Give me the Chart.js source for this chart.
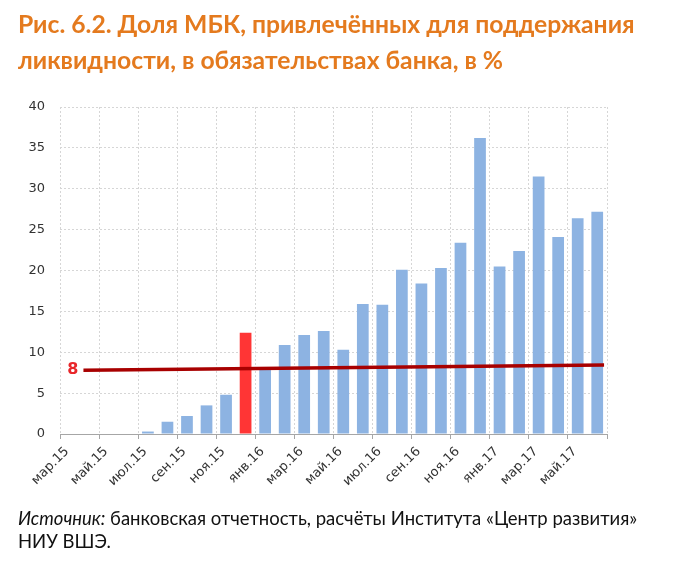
<!DOCTYPE html>
<html>
<head>
<meta charset="utf-8">
<script src="https://cdn.jsdelivr.net/npm/chart.js@4"></script>
<style>
  body { margin: 0; background: #fff; }
  #wrap { position: relative; width: 679px; height: 570px; }
  #grafico { position: absolute; left: 0; top: 0; }
  #titulo {
    position: absolute; left: 18px; top: 6px;
    font: bold 24.7px Lato, "Noto Sans", sans-serif; line-height: 36px;
    color: #E47A1E; white-space: nowrap;
  }
  #fuente {
    position: absolute; left: 18px; top: 507px;
    font: 18.5px Lato, "Noto Sans", sans-serif; line-height: 23px;
    color: #111; white-space: nowrap;
  }
</style>
</head>
<body>
<div id="wrap">
  <canvas id="grafico" width="679" height="570"></canvas>
  <div id="titulo">Рис. 6.2. Доля МБК, привлечённых для поддержания<br>ликвидности, в обязательствах банка, в %</div>
  <div id="fuente"><i>Источник:</i> банковская отчетность, расчёты Института «Центр развития»<br>НИУ ВШЭ.</div>
</div>
<script>
  // месяцы, март 2015 - июнь 2017
  const meses = [
    'мар.15', 'апр.15', 'май.15', 'июн.15', 'июл.15', 'авг.15', 'сен.15', 'окт.15', 'ноя.15', 'дек.15',
    'янв.16', 'фев.16', 'мар.16', 'апр.16', 'май.16', 'июн.16', 'июл.16', 'авг.16', 'сен.16', 'окт.16', 'ноя.16', 'дек.16',
    'янв.17', 'фев.17', 'мар.17', 'апр.17', 'май.17', 'июн.17'
  ];
  // доля МБК в обязательствах, %
  const doliaMBK = [
    null, null, null, null, 0.3, 1.5, 2.2, 3.5, 4.8, 12.4,
    7.9, 10.9, 12.1, 12.6, 10.3, 15.9, 15.8, 20.1, 18.4, 20.3, 23.4, 36.2,
    20.5, 22.4, 31.5, 24.1, 26.4, 27.2
  ];
  const mesDestacado = 'дек.15';
  // линия порога (начало и конец, в месяцах от мар.15)
  const umbralMeses = [1.2, 27.85];
  const umbralValores = [7.8, 8.45];
  const umbralEtiqueta = '8';
  const ticksY = [0, 5, 10, 15, 20, 25, 30, 35, 40];

  const azul = '#8DB3E2';
  const rojo = '#FF3535';

  const etiquetaUmbral = {
    id: 'etiquetaUmbral',
    afterDatasetsDraw(chart) {
      const p = chart.getDatasetMeta(1).data[0];
      const ctx = chart.ctx;
      ctx.save();
      ctx.font = 'bold 16px "DejaVu Sans", sans-serif';
      ctx.fillStyle = '#E8262A';
      ctx.textAlign = 'right';
      ctx.textBaseline = 'middle';
      ctx.fillText(umbralEtiqueta, p.x - 5, p.y);
      ctx.restore();
    }
  };

  const ctx = document.getElementById('grafico').getContext('2d');
  new Chart(ctx, {
    data: {
      datasets: [
        {
          type: 'bar',
          order: 1,
          data: meses.map((m, i) => ({ x: i + 0.5, y: doliaMBK[i] })),
          backgroundColor: meses.map(m => m === mesDestacado ? rojo : azul),
          categoryPercentage: 1,
          barPercentage: 0.6
        },
        {
          type: 'line',
          order: 0,
          data: umbralMeses.map((x, i) => ({ x, y: umbralValores[i] })),
          borderColor: '#A80000',
          borderWidth: 3.5,
          pointRadius: 0
        }
      ]
    },
    options: {
      responsive: false,
      animation: false,
      layout: { padding: { top: 107, right: 72, bottom: 66, left: 0 } },
      plugins: { legend: { display: false }, tooltip: { enabled: false } },
      scales: {
        x: {
          type: 'linear',
          min: 0,
          max: meses.length,
          offset: false,
          afterFit: (s) => { s.height = 70; },
          afterBuildTicks: (s) => {
            s.ticks = meses.map((m, i) => ({ value: i })).filter(t => t.value % 2 === 0);
            s.ticks.push({ value: meses.length });
          },
          ticks: {
            autoSkip: false,
            maxRotation: 45,
            minRotation: 45,
            padding: 5,
            labelOffset: 7,
            color: '#333',
            font: { family: 'DejaVu Sans', size: 13 },
            callback: (v) => meses[v] || ''
          },
          grid: {
            offset: false,
            color: '#D6D6D6',
            tickColor: '#A6A6A6',
            tickLength: 5,
            tickBorderDash: []
          },
          border: { display: true, color: '#A6A6A6', dash: [2, 2] }
        },
        y: {
          min: 0,
          max: 40,
          afterFit: (s) => { s.width = 60; },
          afterBuildTicks: (s) => { s.ticks = ticksY.map(v => ({ value: v })); },
          ticks: {
            padding: 15,
            color: '#333',
            font: { family: 'DejaVu Sans', size: 13 }
          },
          grid: { color: '#D6D6D6', drawTicks: false },
          border: { display: false, dash: [2, 2] }
        }
      }
    },
    plugins: [etiquetaUmbral]
  });
</script>
</body>
</html>
